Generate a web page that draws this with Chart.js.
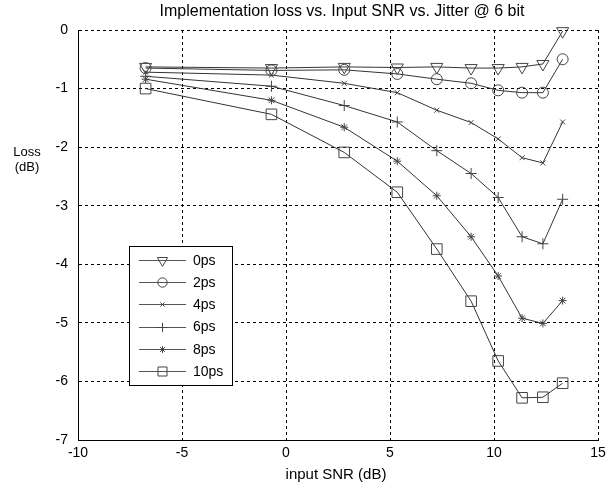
<!DOCTYPE html>
<html>
<head>
<meta charset="utf-8">
<script src="https://cdn.jsdelivr.net/npm/chart.js@4"></script>
<style>
  body { margin: 0; background: #fff; }
  canvas { display: block; }
</style>
</head>
<body>
<canvas id="chart" width="616" height="483"></canvas>
<script>
const snr = [-6.75, -0.7, 2.8, 5.35, 7.25, 8.9, 10.2, 11.35, 12.35, 13.3];

const loss0ps = [-0.63, -0.65, -0.63, -0.64, -0.63, -0.65, -0.65, -0.63, -0.58, -0.02];
const loss2ps = [-0.65, -0.69, -0.68, -0.75, -0.84, -0.91, -1.03, -1.07, -1.07, -0.5];
const loss4ps = [-0.72, -0.77, -0.91, -1.07, -1.37, -1.58, -1.86, -2.18, -2.27, -1.57];
const loss6ps = [-0.79, -0.96, -1.29, -1.57, -2.06, -2.45, -2.86, -3.53, -3.65, -2.89];
const loss8ps = [-0.84, -1.2, -1.66, -2.24, -2.83, -3.53, -4.2, -4.92, -5.01, -4.62];
const loss10ps = [-1.0, -1.44, -2.09, -2.77, -3.74, -4.63, -5.65, -6.28, -6.27, -6.03];

const seriesLabels = ['0ps', '2ps', '4ps', '6ps', '8ps', '10ps'];
const seriesValues = [loss0ps, loss2ps, loss4ps, loss6ps, loss8ps, loss10ps];

const markers = [
  { style: 'triangle', radius: 7, rotation: 180 },
  { style: 'circle', radius: 5.5, rotation: 0 },
  { style: 'crossRot', radius: 3.5, rotation: 0 },
  { style: 'cross', radius: 5.5, rotation: 0 },
  { style: 'star', radius: 4, rotation: 0 },
  { style: 'rect', radius: 7.5, rotation: 0 }
];

const FONT = '"Liberation Sans", Arial, sans-serif';
const LINE = '#333';
const MARK = '#444';

const datasets = seriesValues.map((vals, i) => ({
  label: seriesLabels[i],
  data: vals.map((v, j) => ({ x: snr[j], y: v })),
  borderColor: LINE,
  borderWidth: 1,
  pointStyle: markers[i].style,
  pointRadius: markers[i].radius,
  pointRotation: markers[i].rotation,
  pointBorderColor: MARK,
  pointBackgroundColor: 'rgba(0,0,0,0)',
  pointBorderWidth: 1,
  tension: 0,
  clip: false
}));

// legend box inside the plot + title and axis labels
const extras = {
  id: 'extras',
  afterDatasetsDraw(chart) {
    const ctx = chart.ctx;
    ctx.save();
    ctx.fillStyle = '#fff';
    ctx.fillRect(129.5, 246.5, 103, 139);
    ctx.strokeStyle = '#000';
    ctx.lineWidth = 1;
    ctx.strokeRect(129.5, 246.5, 103, 139);

    chart.data.datasets.forEach((ds, i) => {
      const y = 260 + i * 22.2;
      ctx.strokeStyle = '#555';
      ctx.beginPath();
      ctx.moveTo(139, Math.round(y) + 0.5);
      ctx.lineTo(186, Math.round(y) + 0.5);
      ctx.stroke();
      ctx.strokeStyle = MARK;
      ctx.fillStyle = 'rgba(0,0,0,0)';
      Chart.helpers.drawPoint(ctx, {
        pointStyle: markers[i].style,
        radius: markers[i].radius * 0.85,
        rotation: markers[i].rotation,
        borderWidth: 1
      }, 162.5, Math.round(y) + 0.5);
      ctx.fillStyle = '#000';
      ctx.font = '14px ' + FONT;
      ctx.textAlign = 'left';
      ctx.textBaseline = 'middle';
      ctx.fillText(ds.label, 193, y + 1);
    });
    ctx.restore();
  },
  afterDraw(chart) {
    const ctx = chart.ctx;
    ctx.save();
    ctx.fillStyle = '#000';
    ctx.textBaseline = 'middle';
    ctx.textAlign = 'center';
    ctx.font = '16px ' + FONT;
    ctx.fillText('Implementation loss vs. Input SNR vs. Jitter @ 6 bit', 342, 12);
    ctx.font = '15px ' + FONT;
    ctx.fillText('input SNR (dB)', 336, 475);
    ctx.font = '13px ' + FONT;
    ctx.fillText('Loss', 27, 152);
    ctx.fillText('(dB)', 27, 167);
    ctx.restore();
  }
};

new Chart(document.getElementById('chart'), {
  type: 'line',
  data: { datasets },
  options: {
    responsive: false,
    animation: false,
    layout: { padding: { top: 30, right: 18, left: 0, bottom: 0 } },
    plugins: {
      legend: { display: false },
      title: { display: false },
      tooltip: { enabled: false }
    },
    scales: {
      x: {
        type: 'linear',
        min: -10,
        max: 15,
        ticks: { stepSize: 5, color: '#000', font: { family: FONT, size: 14 }, padding: 5, maxRotation: 0 },
        grid: { color: '#000', drawTicks: false, lineWidth: 1 },
        border: { color: '#000', width: 1, dash: [3, 3] },
        afterFit: s => { s.height = 43; }
      },
      y: {
        type: 'linear',
        min: -7,
        max: 0,
        ticks: { stepSize: 1, color: '#000', font: { family: FONT, size: 14 }, padding: 10 },
        grid: { color: '#000', drawTicks: false, lineWidth: 1 },
        border: { color: '#000', width: 1, dash: [3, 3] },
        afterFit: s => { s.width = 78; }
      }
    }
  },
  plugins: [extras]
});
</script>
</body>
</html>
